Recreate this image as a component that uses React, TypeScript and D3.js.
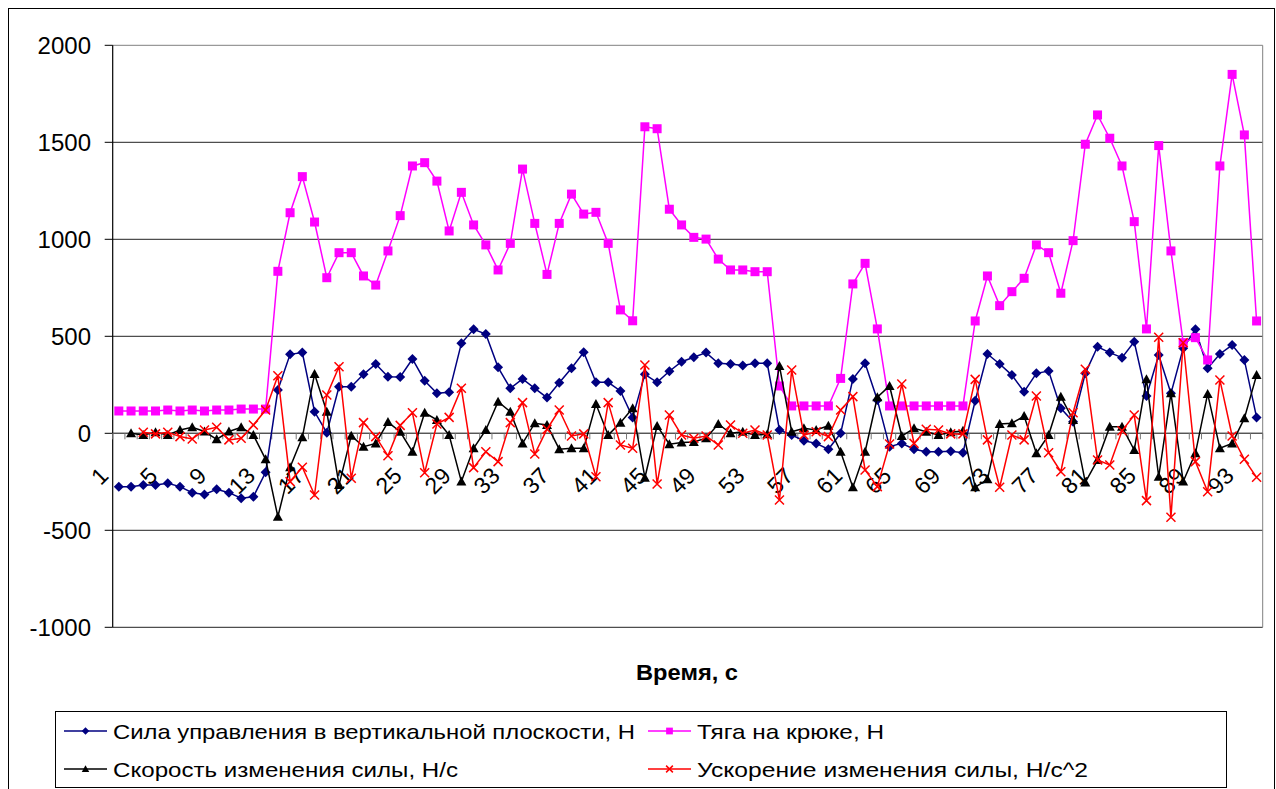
import React from "react";
import * as d3 from "d3";

const categories: number[] = d3.range(1, 95);

const controlForce: (number | null)[] = [
  -275, -275, -266, -266, -258, -275, -306, -315, -289, -306,
  -335, -327, -201, 223, 407, 416, 111, 3, 240, 240,
  304, 357, 292, 290, 383, 271, 206, 211, 464, 536,
  512, 340, 232, 280, 232, 184, 261, 335, 418, 263,
  263, 218, 82, 304, 263, 320, 369, 392, 416, 361,
  357, 349, 361, 361, 17, -9, -38, -52, -82, 0,
  280, 361, 172, -69, -52, -82, -95, -95, -92, -100,
  168, 409, 357, 300, 214, 309, 321, 129, 60, 309,
  446, 416, 390, 472, 192, 404, 206, 438, 536, 335,
  409, 455, 378, 82,
];

const hookPull: (number | null)[] = [
  115, 115, 115, 115, 120, 115, 120, 115, 120, 120,
  125, 125, 125, 835, 1137, 1323, 1089, 802, 931, 931,
  811, 764, 940, 1122, 1378, 1395, 1300, 1043, 1242, 1074,
  971, 842, 979, 1362, 1082, 819, 1082, 1233, 1130, 1139,
  979, 636, 580, 1580, 1570, 1155, 1074, 1010, 1001, 898,
  842, 842, 833, 833, 244, 141, 141, 141, 141, 283,
  770, 876, 538, 141, 141, 141, 141, 141, 141, 141,
  579, 811, 658, 730, 799, 971, 931, 722, 993, 1490,
  1641, 1521, 1378, 1091, 538, 1483, 940, 467, 493, 378,
  1378, 1850, 1538, 579,
];

const forceRate: (number | null)[] = [
  null, 0, -9, 5, -9, 17, 31, 9, -31, 9,
  31, -9, -134, -430, -175, -21, 306, 111, -266, -12,
  -69, -52, 58, 8, -95, 106, 69, -9, -249, -77,
  17, 163, 111, -52, 52, 43, -82, -77, -77, 151,
  -9, 55, 129, -229, 38, -56, -48, -45, -25, 48,
  0, 8, -9, -5, 347, 8, 26, 17, 39, -95,
  -278, -95, 186, 244, -14, 26, 8, -9, 5, 13,
  -278, -237, 48, 52, 89, -103, -9, 189, 69, -253,
  -138, 34, 34, -86, 278, -224, 206, -249, -103, 203,
  -77, -52, 77, 300,
];

const forceAccel: (number | null)[] = [
  null, null, 5, -3, 5, -17, -29, 17, 31, -34,
  -26, 43, 120, 297, -249, -175, -318, 197, 343, -232,
  55, -17, -116, 41, 106, -203, 48, 82, 232, -177,
  -95, -146, 55, 158, -107, 21, 120, -14, -3, -224,
  158, -60, -77, 352, -261, 94, -9, -26, -14, -60,
  43, 0, 17, -9, -344, 326, -9, 8, -17, 120,
  189, -189, -275, -55, 254, -52, 21, 17, -3, -3,
  278, -34, -278, -9, -34, 192, -100, -198, 106, 330,
  -138, -163, 13, 94, -347, 495, -433, 467, -146, -301,
  275, -14, -134, -227,
];

const yTicks: number[] = [-1000, -500, 0, 500, 1000, 1500, 2000];
const xLabelEvery = 4;

const seriesNames: string[] = [
  "Сила управления в вертикальной плоскости, Н",
  "Тяга на крюке, Н",
  "Скорость изменения силы, Н/с",
  "Ускорение изменения силы, Н/с^2",
];
const xTitle = "Время, с";

const FONT = "'Liberation Sans', Arial, sans-serif";

type MarkerKind = "diamond" | "square" | "triangle" | "x";

function Marker({ kind, x, y, color, s = 1 }: { kind: MarkerKind; x: number; y: number; color: string; s?: number }) {
  if (kind === "diamond") {
    const r = 5 * s;
    return <path d={`M${x},${y - r}L${x + r},${y}L${x},${y + r}L${x - r},${y}Z`} fill={color} />;
  }
  if (kind === "square") {
    const r = 4.5 * s;
    return <rect x={x - r} y={y - r} width={2 * r} height={2 * r} fill={color} />;
  }
  if (kind === "triangle") {
    const r = 5 * s;
    return <path d={`M${x},${y - r}L${x + r},${y + r * 0.8}L${x - r},${y + r * 0.8}Z`} fill={color} />;
  }
  const r = 4.5 * s;
  return (
    <path d={`M${x - r},${y - r}L${x + r},${y + r}M${x - r},${y + r}L${x + r},${y - r}`} stroke={color} strokeWidth={1.5} fill="none" />
  );
}

export default function App() {
  const left = 112.7;
  const right = 1262.7;
  const top = 45.3;
  const bottom = 627.3;

  const x = d3.scaleBand<number>().domain(categories).range([left, right]).paddingInner(0).paddingOuter(0);
  const bw = x.bandwidth();
  const cx = (c: number) => (x(c) as number) + bw / 2;
  const y = d3.scaleLinear().domain([-1000, 2000]).range([bottom, top]);
  const y0 = y(0);

  const series = [
    { data: controlForce, color: "#000080", kind: "diamond" as MarkerKind },
    { data: hookPull, color: "#FF00FF", kind: "square" as MarkerKind },
    { data: forceRate, color: "#000000", kind: "triangle" as MarkerKind },
    { data: forceAccel, color: "#FF0000", kind: "x" as MarkerKind },
  ];

  const line = (data: (number | null)[]) =>
    d3
      .line<number>()
      .defined((c) => data[c - 1] !== null)
      .x((c) => cx(c))
      .y((c) => y(data[c - 1] as number))(categories) || "";

  const legendItems = [
    { s: 0, lx: 64, ty: 731, w: 522 },
    { s: 1, lx: 648, ty: 731, w: 187 },
    { s: 2, lx: 64, ty: 769, w: 345 },
    { s: 3, lx: 648, ty: 769, w: 391 },
  ];

  return (
    <svg
      width={1276}
      height={789}
      style={{ position: "absolute", left: 0, top: 0, background: "#fff" }}
      fontFamily={FONT}
    >
      <rect x={8.5} y={8.5} width={1266} height={820} fill="#fff" stroke="#000" strokeWidth={1} />

      {yTicks.map((t) => (
        <line key={"g" + t} x1={left} x2={right} y1={y(t)} y2={y(t)} stroke={t === 2000 ? "#808080" : "#222"} strokeWidth={1} />
      ))}
      <line x1={right} x2={right} y1={top} y2={bottom} stroke="#808080" strokeWidth={1} />
      <line x1={left} x2={left} y1={top} y2={bottom} stroke="#000" strokeWidth={1.2} />
      {yTicks.map((t) => (
        <g key={"yt" + t}>
          <line x1={left - 8} x2={left} y1={y(t)} y2={y(t)} stroke="#000" />
          <text x={91} y={y(t)} dy="0.36em" textAnchor="end" fontSize={24} fill="#000">
            {t}
          </text>
        </g>
      ))}

      <line x1={left} x2={right} y1={y0} y2={y0} stroke="#555" strokeWidth={1.2} />
      {categories.map((c) => (
        <line key={"xt" + c} x1={x(c) as number} x2={x(c) as number} y1={y0} y2={y0 + 6} stroke="#777" />
      ))}
      <line x1={right} x2={right} y1={y0} y2={y0 + 6} stroke="#777" />
      {categories
        .filter((c) => (c - 1) % xLabelEvery === 0)
        .map((c) => {
          const ax = cx(c) - 9;
          const ay = y0 + 44;
          return (
            <text
              key={"xl" + c}
              x={ax}
              y={ay}
              transform={`rotate(-45 ${ax} ${ay})`}
              textAnchor="end"
              fontSize={23}
              fill="#000"
            >
              {c}
            </text>
          );
        })}

      {series.map((s, i) => (
        <g key={"s" + i}>
          <path d={line(s.data)} fill="none" stroke={s.color} strokeWidth={1.5} />
          {categories.map((c) =>
            s.data[c - 1] === null ? null : (
              <Marker key={c} kind={s.kind} x={cx(c)} y={y(s.data[c - 1] as number)} color={s.color} />
            )
          )}
        </g>
      ))}

      <text x={687} y={680} textAnchor="middle" fontSize={22} fontWeight="bold" fill="#000" textLength={102} lengthAdjust="spacingAndGlyphs">
        {xTitle}
      </text>

      <rect x={55.5} y={711.5} width={1171} height={76} fill="#fff" stroke="#000" strokeWidth={1} />
      {legendItems.map((it) => {
        const s = series[it.s];
        return (
          <g key={"l" + it.s}>
            <line x1={it.lx} x2={it.lx + 43} y1={it.ty} y2={it.ty} stroke={s.color} strokeWidth={1.3} />
            <Marker kind={s.kind} x={it.lx + 21.5} y={it.ty} color={s.color} s={0.75} />
            <text
              x={it.lx + 49}
              y={it.ty}
              dy="0.36em"
              fontSize={21}
              fill="#000"
              textLength={it.w}
              lengthAdjust="spacingAndGlyphs"
            >
              {seriesNames[it.s]}
            </text>
          </g>
        );
      })}
    </svg>
  );
}
